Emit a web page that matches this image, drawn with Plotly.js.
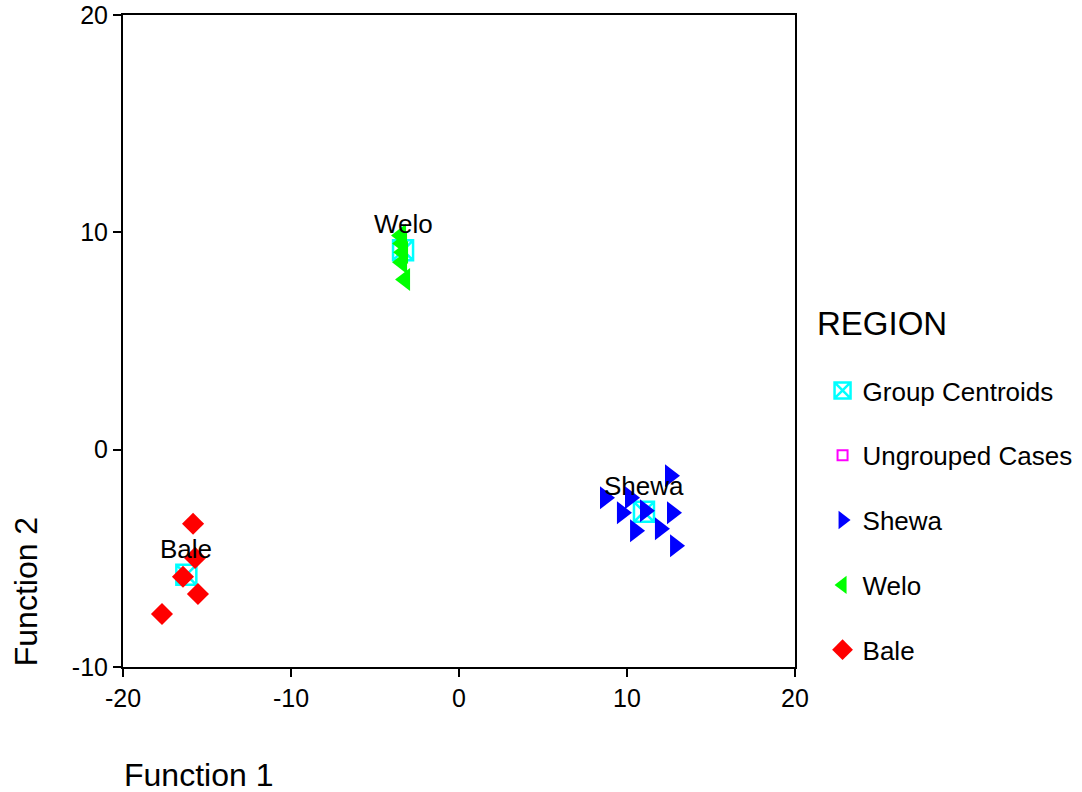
<!DOCTYPE html>
<html>
<head>
<meta charset="utf-8">
<script src="https://cdn.plot.ly/plotly-3.0.1.min.js"></script>
<style>html,body{margin:0;padding:0;background:#fff;}#chart{width:1082px;height:792px;}</style>
</head>
<body>
<div id="chart"></div>
<script>
// Group centroids
var centroidNames = ["Shewa", "Welo", "Bale"];
var centroidX = [11.01, -3.33, -16.23];
var centroidY = [-2.86, 9.17, -5.76];

// Cases by region
var shewaX = [12.56, 8.69, 10.18, 9.70, 11.07, 12.68, 10.48, 11.96, 12.86];
var shewaY = [-1.20, -2.21, -2.21, -2.90, -2.81, -2.90, -3.73, -3.64, -4.42];

var weloX = [-3.45, -3.39, -3.33, -3.39, -3.21];
var weloY = [9.86, 9.49, 9.08, 8.62, 7.83];

var baleX = [-15.83, -15.71, -16.43, -15.54, -17.68];
var baleY = [-3.41, -4.98, -5.85, -6.64, -7.56];

var ungroupedX = [null];
var ungroupedY = [null];

var xTicks = [-20, -10, 0, 10, 20];
var yTicks = [-10, 0, 10, 20];

var FONT = "Liberation Sans, Arial, Helvetica, sans-serif";

var traces = [
  {name: "Group Centroids", x: centroidX, y: centroidY, type: "scatter", mode: "markers",
   legendgroup: "g1",
   marker: {symbol: "square-x-open", size: 20, color: "#00FFFF", line: {width: 2.5, color: "#00FFFF"}}},
  {name: "Ungrouped Cases", x: ungroupedX, y: ungroupedY, type: "scatter", mode: "markers",
   legendgroup: "g2",
   marker: {symbol: "square-open", size: 10, color: "#FF00FF", line: {width: 2, color: "#FF00FF"}}},
  {name: "Shewa", x: shewaX, y: shewaY, type: "scatter", mode: "markers",
   legendgroup: "g3",
   marker: {symbol: "triangle-right", size: 20, color: "#0000FF"}},
  {name: "Welo", x: weloX, y: weloY, type: "scatter", mode: "markers",
   legendgroup: "g4",
   marker: {symbol: "triangle-left", size: 20, color: "#00FF00"}},
  {name: "Bale", x: baleX, y: baleY, type: "scatter", mode: "markers",
   legendgroup: "g5",
   marker: {symbol: "diamond", size: 17, color: "#FF0000"}}
];

var annotations = centroidNames.map(function (n, i) {
  return {x: centroidX[i], y: centroidY[i], xref: "x", yref: "y", text: n, showarrow: false,
          yshift: 26, xanchor: "center", yanchor: "middle", font: {family: FONT, size: 26, color: "#000"}};
});
annotations.push({x: 0.112, y: -0.166, xref: "paper", yref: "paper", text: "Function 1", showarrow: false,
  xanchor: "center", yanchor: "middle", font: {family: FONT, size: 32, color: "#000"}});
annotations.push({x: -0.144, y: 0.115, xref: "paper", yref: "paper", text: "Function 2", showarrow: false,
  textangle: -90, xanchor: "center", yanchor: "middle", font: {family: FONT, size: 32, color: "#000"}});
annotations.push({x: (815 - 123) / 672, y: (667 - 323) / 652, xref: "paper", yref: "paper", text: "REGION",
  showarrow: false, xanchor: "left", yanchor: "middle", font: {family: FONT, size: 33, color: "#000"}});

var layout = {
  width: 1082, height: 792,
  margin: {l: 123, r: 287, t: 15, b: 125, autoexpand: false},
  paper_bgcolor: "#fff", plot_bgcolor: "#fff",
  font: {family: FONT, size: 25, color: "#000"},
  showlegend: true,
  xaxis: {range: [-20, 20], tickvals: xTicks, ticktext: xTicks.map(String), showgrid: false, zeroline: false,
          showline: true, mirror: true, linecolor: "#000", linewidth: 2, ticks: "outside", ticklen: 8,
          tickwidth: 2, tickcolor: "#000", tickfont: {family: FONT, size: 25, color: "#000"}},
  yaxis: {range: [-10, 20], tickvals: yTicks, ticktext: yTicks.map(String), showgrid: false, zeroline: false,
          showline: true, mirror: true, linecolor: "#000", linewidth: 2, ticks: "outside", ticklen: 8,
          tickwidth: 2, tickcolor: "#000", tickfont: {family: FONT, size: 25, color: "#000"}},
  legend: {x: 1.041, y: 0.46, xanchor: "left", yanchor: "top", tracegroupgap: 28,
           font: {family: FONT, size: 26, color: "#000"},
           bgcolor: "rgba(0,0,0,0)", borderwidth: 0},
  annotations: annotations
};

Plotly.newPlot("chart", traces, layout, {displayModeBar: false, staticPlot: true});
</script>
</body>
</html>
